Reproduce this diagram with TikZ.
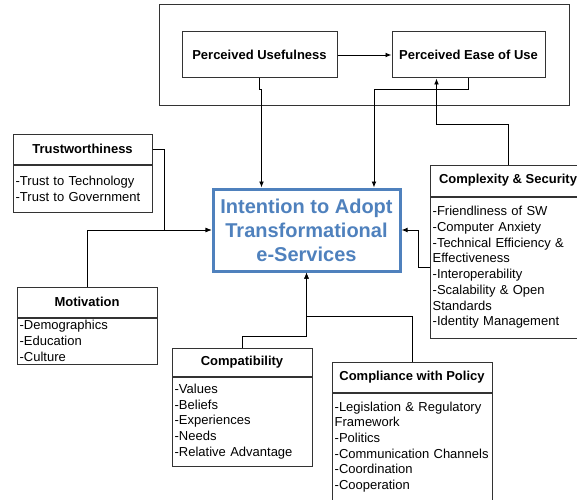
\documentclass[tikz,border=0pt]{standalone}
\usepackage{xcolor}
\usepackage{fontspec}
\setmainfont{Liberation Sans}
\usepackage{tikz}
\usetikzlibrary{positioning,arrows.meta}
\definecolor{intentblue}{HTML}{4F81BD}

\begin{document}
\begin{tikzpicture}[x=0.75pt, y=-0.75pt,
    head/.style={draw=black!80, line width=0.75pt, font=\fontsize{9.75}{11.7}\selectfont\bfseries, minimum height=22.5pt},
    body/.style={draw=black!80, line width=0.75pt, font=\fontsize{9.75}{11.8}\selectfont, align=left, inner xsep=2pt, inner ysep=1pt},
    flow/.style={draw, line width=0.7pt, -{Latex[length=4.5pt, width=3.6pt]}}]
    \useasboundingbox (0,0) rectangle (577,499);
    \clip (0,0) rectangle (577,499);

    \node [draw=black!80, line width=0.75pt, minimum width=307.5pt, minimum height=75.75pt] (tam) at (364,55.5) {};
    \node [head, minimum width=116.25pt, minimum height=34.5pt] (usefulness) at (259.5,55) {Perceived Usefulness};
    \node [head, right=40.5pt of usefulness, minimum width=114.75pt, minimum height=34.5pt] (ease) {Perceived Ease of Use};

    \node [draw=intentblue, line width=2.25pt, text=intentblue, align=center, minimum width=140.25pt, minimum height=61.5pt,
        font=\fontsize{15}{18}\selectfont\bfseries] (intent) at (306.5,230) {Intention to Adopt\\Transformational\\e-Services};

    % factors
    \node [head, minimum width=104.25pt] (trust_head) at (82.5,149) {Trustworthiness};
    \node [body, below=0pt of trust_head, text width=100.25pt, minimum height=35.25pt] (trust_body) {-Trust to Technology\\-Trust to Government};

    \node [head, minimum width=105pt] (motiv_head) at (87,302) {Motivation};
    \node [body, below=0pt of motiv_head, text width=101pt, minimum height=34.5pt] (motiv_body) {-Demographics\\-Education\\-Culture};

    \node [head, minimum width=105pt, minimum height=21pt] (compat_head) at (242,362) {Compatibility};
    \node [body, below=0pt of compat_head, text width=101pt, minimum height=66.75pt] (compat_body) {-Values\\-Beliefs\\-Experiences\\-Needs\\-Relative Advantage};

    \node [head, minimum width=120pt] (policy_head) at (412,377) {Compliance with Policy};
    \node [body, below=0pt of policy_head, text width=116pt, minimum height=81pt] (policy_body) {-Legislation \& Regulatory\\Framework\\-Politics\\-Communication Channels\\-Coordination\\-Cooperation};

    \node [head, minimum width=117pt, minimum height=23.25pt] (complex_head) at (508,180.5) {Complexity \& Security};
    \node [body, below=0pt of complex_head, text width=113pt, minimum height=105.75pt] (complex_body) {-Friendliness of SW\\-Computer Anxiety\\-Technical Efficiency \&\\Effectiveness\\-Interoperability\\-Scalability \& Open\\Standards\\-Identity Management};

    % connectors
    \draw[flow] (usefulness) -- (ease);
    \draw[flow] (usefulness.south) -- ++(0,11) -| ([xshift=37.5pt]intent.north west);
    \draw[flow] (ease.south) -- ++(0,11) -| ([xshift=50.6pt]intent.north);
    \draw[flow] (complex_head.north) -- ++(0,-40) -| ([xshift=33.75pt]ease.south west);
    \draw[flow] (complex_body.west) -- ++(-11,0) |- (intent.east);
    \draw[flow] (trust_head.east) -- ++(12,0) |- (intent.west);
    \draw[flow] (motiv_head.north) |- (intent.west);
    \draw[flow] (compat_head.north) -- ++(0,-11) -| (intent.south);
    \draw[flow] (policy_head.north) -- ++(0,-45) -| (intent.south);

\end{tikzpicture}
\end{document}
